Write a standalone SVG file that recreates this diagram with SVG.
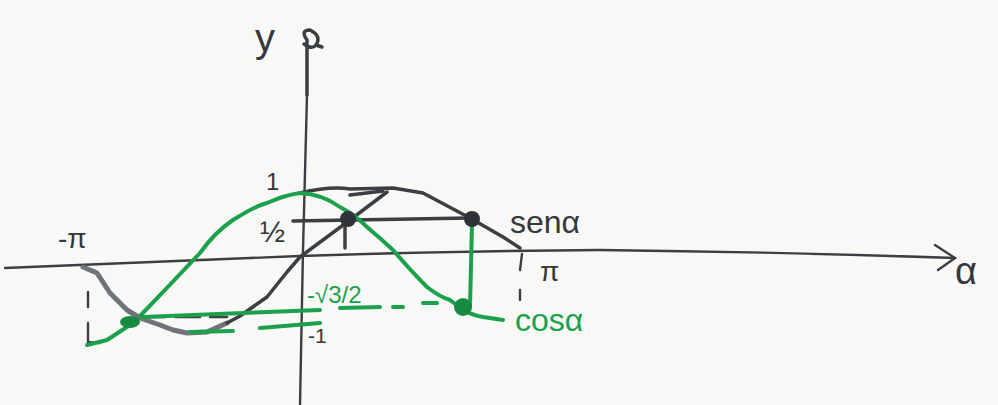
<svg xmlns="http://www.w3.org/2000/svg" width="998" height="405" viewBox="0 0 998 405">
<style>
.k{fill:none;stroke:#3b3e42;stroke-width:3.5;stroke-linecap:round;stroke-linejoin:round}
.kt{fill:none;stroke:#3b3e42;stroke-width:2.4;stroke-linecap:round}
.g{fill:none;stroke:#1ba14c;stroke-width:4;stroke-linecap:round;stroke-linejoin:round}
.gr{fill:none;stroke:#707478;stroke-width:5;stroke-linecap:round;stroke-linejoin:round}
.tk{font-family:"Liberation Sans",Arial,sans-serif;fill:#34373b}
.tg{font-family:"Liberation Sans",Arial,sans-serif;fill:#1ba14c}
</style>
<rect width="998" height="405" fill="#f8f8f6"/>
<g id="axes">
<path class="kt" d="M5,268 Q150,262 300,256 Q450,251 600,250 Q780,252 955,258"/>
<path class="kt" d="M935,245 L955,258 L938,270"/>
<path class="kt" d="M300,405 L303,250 L307,95"/>
<path class="k" d="M307,95 L307,40 Q300,30 310,30 Q322,36 316,45 Q312,50 304,44 M316,45 L322,47"/>
</g>
<g id="sine">
<path class="gr" d="M83,267 L97,273 L110,293 L127,310 L140,318 L160,325 L173,330 L187,333 L207,332 L227,323"/>
<path class="k" d="M227,323 L240,316 L267,297 L287,272 L300,257 L350,220 L387,192"/>
<path class="k" d="M300,193 Q330,186 350,189 L393,188 L423,193 L470,218 L503,237 L520,248"/>
<path class="k" d="M350,195 L383,191"/>
<path class="k" d="M293,221 L470,218"/>
<path class="k" d="M345,220 L345,248"/>
<path class="kt" d="M88,292 L88,307 M88,323 L88,342 L100,343"/>
<path class="kt" d="M522,254 L520,270 M520,290 L520,300"/>
<path class="kt" d="M143,317 L165,317 M175,317 L200,317 M210,317 L227,317"/>
</g>
<g id="cosine">
<path class="g" d="M87,345 L107,340 L133,323"/>
<path class="g" d="M140,316 Q170,285 200,253 Q215,232 233,220 Q255,206 267,203 Q285,195 300,193 Q322,194 340,207 Q355,215 367,227 Q380,238 393,250 Q412,272 427,287 Q440,297 450,300 Q458,306 463,310 Q472,315 483,317 L503,320"/>
<path class="g" d="M472,223 L470,307"/>
<path class="g" d="M143,317 L320,310"/>
<path class="g" d="M340,308 L380,307 M393,307 L403,307 M423,303 L437,303"/>
<path class="g" d="M260,328 L320,323 M190,332 L233,331"/>
</g>
<g id="points">
<circle cx="348" cy="219" r="8" fill="#2f3236"/>
<circle cx="472" cy="219" r="8" fill="#2f3236"/>
<circle cx="463" cy="307" r="9" fill="#178a40"/>
<ellipse cx="130" cy="322" rx="10" ry="6" fill="#178a40"/>
</g>
<g id="labels">
<text class="tk" x="255" y="52" font-size="40">y</text>
<text class="tk" x="266" y="190" font-size="24">1</text>
<text class="tk" x="260" y="242" font-size="30">½</text>
<text class="tk" x="58" y="248" font-size="28">-π</text>
<text class="tk" x="540" y="281" font-size="28">π</text>
<text class="tk" x="510" y="233" font-size="32">senα</text>
<text class="tg" x="515" y="331" font-size="32">cosα</text>
<text class="tg" x="307" y="303" font-size="24">-√3/2</text>
<text class="tk" x="308" y="343" font-size="21">-1</text>
<text class="tk" x="955" y="284" font-size="38">α</text>
</g>
</svg>
